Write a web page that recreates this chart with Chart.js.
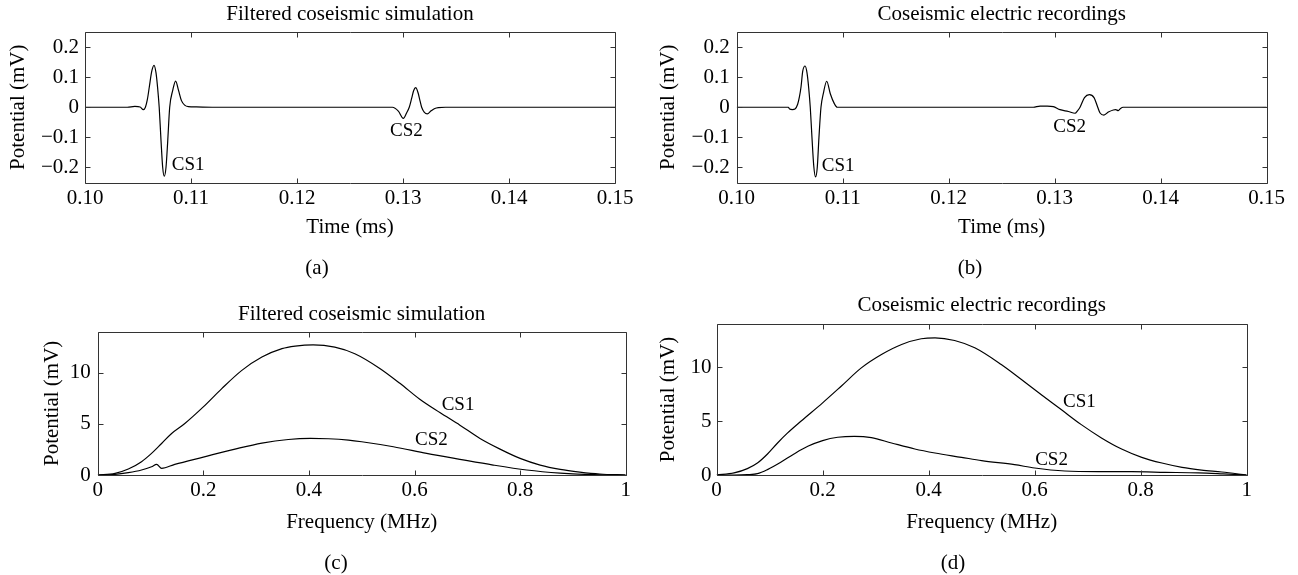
<!DOCTYPE html>
<html>
<head>
<meta charset="utf-8">
<script src="https://cdn.jsdelivr.net/npm/chart.js@4.4.0/dist/chart.umd.min.js"></script>
<style>
  body { margin: 0; background: #fff; width: 1298px; height: 575px; position: relative; overflow: hidden; font-family: "Liberation Serif", serif; }
  .panel { position: absolute; }
  .cap { position: absolute; font-size: 21px; line-height: 1; transform: translate(-50%, -50%); color: #000; }
</style>
</head>
<body>
<div class="panel" style="left:0;top:0;width:650px;height:290px"><canvas id="chartA"></canvas></div>
<div class="panel" style="left:650px;top:0;width:648px;height:290px"><canvas id="chartB"></canvas></div>
<div class="panel" style="left:0;top:290px;width:650px;height:285px"><canvas id="chartC"></canvas></div>
<div class="panel" style="left:650px;top:290px;width:648px;height:285px"><canvas id="chartD"></canvas></div>
<div class="cap" style="left:317px;top:267px">(a)</div>
<div class="cap" style="left:970px;top:267px">(b)</div>
<div class="cap" style="left:336px;top:562px">(c)</div>
<div class="cap" style="left:953px;top:562px">(d)</div>
<script>
/* DATA */

// (a) filtered coseismic simulation, time (ms) / potential (mV)
var simTime = [0.100, 0.1040, 0.1047, 0.1052, 0.1055, 0.1057, 0.10588, 0.10607, 0.10629, 0.10651, 0.10670, 0.10686,
  0.10700, 0.10717, 0.10733, 0.10748, 0.10764, 0.10780, 0.10799, 0.10827, 0.10855, 0.10883, 0.10910, 0.10940,
  0.10975, 0.1105, 0.1120, 0.1290, 0.12956, 0.13003, 0.13035, 0.13059, 0.13082, 0.13100, 0.13120, 0.13142,
  0.13160, 0.13176, 0.13200, 0.13229, 0.13265, 0.13300, 0.13333, 0.1340, 0.150];
var simPotential = [0, 0, 0.003, 0.001, -0.008, 0, 0.025, 0.068, 0.118, 0.139, 0.114, 0.061,
  0, -0.11, -0.2, -0.229, -0.2, -0.115, 0, 0.055, 0.087, 0.055, 0.022, 0.007,
  0.002, 0.001, 0, 0, -0.013, -0.037, -0.018, 0, 0.03, 0.055, 0.065, 0.048,
  0.022, 0, -0.016, -0.022, -0.012, -0.004, -0.001, 0, 0];

// (b) coseismic electric recordings, time (ms) / potential (mV)
var recTime = [0.100, 0.10487, 0.10500, 0.10525, 0.10550, 0.10575, 0.10592, 0.10607, 0.10623, 0.10645, 0.10663,
  0.10679, 0.10694, 0.10710, 0.10727, 0.10744, 0.10760, 0.10776, 0.10795, 0.10817, 0.10849, 0.10883, 0.10921,
  0.10949, 0.12798, 0.12862, 0.12930, 0.12987, 0.13050, 0.13129, 0.13192, 0.13215, 0.13239, 0.13281, 0.13327,
  0.13371, 0.13406, 0.13428, 0.13465, 0.13506, 0.13553, 0.13575, 0.13600, 0.13621, 0.13646, 0.150];
var recPotential = [0, 0, -0.006, -0.008, -0.006, 0.01, 0.035, 0.068, 0.12, 0.137, 0.115,
  0.065, 0, -0.1, -0.195, -0.2315, -0.2, -0.1, 0, 0.045, 0.0864, 0.045, 0.012,
  0, 0, 0.004, 0.004, 0.002, -0.008, -0.014, -0.02, -0.012, 0, 0.032, 0.042,
  0.032, 0, -0.019, -0.026, -0.016, -0.009, -0.008, -0.011, -0.004, 0, 0];

// (c) filtered coseismic simulation, frequency (MHz) / potential (mV)
var simCs1Freq = [0, 0.033, 0.058, 0.083, 0.102, 0.121, 0.140, 0.165, 0.2, 0.235, 0.273, 0.311, 0.349, 0.374,
  0.408, 0.449, 0.487, 0.535, 0.573, 0.61, 0.648, 0.686, 0.724, 0.762, 0.8, 0.838, 0.876, 0.913, 0.951, 1];
var simCs1Amp = [0, 0.16, 0.58, 1.30, 2.11, 3.08, 4.06, 5.03, 6.65, 8.44, 10.22, 11.52, 12.34, 12.59,
  12.72, 12.49, 11.85, 10.39, 8.93, 7.40, 6.10, 4.87, 3.57, 2.53, 1.62, 0.97, 0.55, 0.29, 0.10, 0];
var simCs2Freq = [0, 0.033, 0.058, 0.083, 0.102, 0.1117, 0.121, 0.146, 0.2, 0.26, 0.311, 0.361, 0.403, 0.437,
  0.475, 0.50, 0.56, 0.623, 0.686, 0.749, 0.8125, 0.876, 0.939, 1];
var simCs2Amp = [0, 0.06, 0.23, 0.49, 0.81, 1.04, 0.65, 1.04, 1.75, 2.53, 3.12, 3.47, 3.57, 3.54,
  3.41, 3.25, 2.76, 2.11, 1.53, 0.97, 0.49, 0.19, 0.03, 0];

// (d) coseismic electric recordings, frequency (MHz) / potential (mV)
var recCs1Freq = [0, 0.033, 0.058, 0.077, 0.096, 0.115, 0.134, 0.159, 0.2, 0.235, 0.273, 0.311, 0.349, 0.386,
  0.412, 0.449, 0.487, 0.537, 0.575, 0.612, 0.650, 0.688, 0.726, 0.764, 0.802, 0.840, 0.878, 0.915, 0.953, 1];
var recCs1Amp = [0, 0.19, 0.59, 1.11, 1.95, 2.97, 3.90, 4.98, 6.69, 8.23, 9.93, 11.17, 12.10, 12.63,
  12.72, 12.47, 11.79, 10.24, 8.85, 7.46, 6.07, 4.67, 3.44, 2.41, 1.64, 1.11, 0.71, 0.46, 0.28, 0];
var recCs2Freq = [0, 0.033, 0.058, 0.077, 0.096, 0.121, 0.146, 0.172, 0.2, 0.2285, 0.26, 0.292, 0.33, 0.374,
  0.412, 0.462, 0.50, 0.562, 0.60, 0.657, 0.72, 0.783, 0.846, 0.909, 0.955, 1];
var recCs2Amp = [0, 0, 0.03, 0.12, 0.50, 1.18, 1.95, 2.66, 3.19, 3.50, 3.59, 3.47, 2.97, 2.41,
  2.04, 1.64, 1.33, 0.96, 0.65, 0.37, 0.31, 0.31, 0.25, 0.19, 0.1, 0];

// ticks
var timeTicks = [0.10, 0.11, 0.12, 0.13, 0.14, 0.15];
var timeTickLabels = ['0.10', '0.11', '0.12', '0.13', '0.14', '0.15'];
var mvTicks = [-0.2, -0.1, 0, 0.1, 0.2];
var mvTickLabels = ['\u22120.2', '\u22120.1', '0', '0.1', '0.2'];
var freqTicks = [0, 0.2, 0.4, 0.6, 0.8, 1];
var freqTickLabels = ['0', '0.2', '0.4', '0.6', '0.8', '1'];
var ampTicks = [0, 5, 10];
var ampTickLabels = ['0', '5', '10'];

/* HELPERS */

Chart.defaults.font.family = '"Liberation Serif", serif';
Chart.defaults.color = '#000';

var FONT = { family: '"Liberation Serif", serif', size: 21, weight: 'normal' };

function points(xs, ys) {
  return xs.map(function(x, i) { return { x: x, y: ys[i] }; });
}

function tickLabel(ticks, labels) {
  return function(value) {
    var i = ticks.findIndex(function(t) { return Math.abs(t - value) < 1e-9; });
    return i < 0 ? '' : labels[i];
  };
}

function trace(xs, ys) {
  return {
    data: points(xs, ys),
    borderColor: '#000',
    borderWidth: 1.2,
    pointRadius: 0,
    fill: false,
    cubicInterpolationMode: 'monotone'
  };
}

// box with inward tick marks on all four sides + CS labels
var frame = {
  id: 'frame',
  afterDraw: function(chart, args, opts) {
    var ctx = chart.ctx, a = chart.chartArea, x = chart.scales.x, y = chart.scales.y;
    ctx.save();
    ctx.strokeStyle = '#333';
    ctx.lineWidth = 1;
    ctx.beginPath();
    var l = Math.round(a.left) + 0.5, r = Math.round(a.right) + 0.5;
    var t = Math.round(a.top) + 0.5, b = Math.round(a.bottom) + 0.5;
    ctx.rect(l, t, r - l, b - t);
    x.ticks.forEach(function(tk) {
      var px = Math.round(x.getPixelForValue(tk.value)) + 0.5;
      ctx.moveTo(px, b); ctx.lineTo(px, b - 5);
      ctx.moveTo(px, t); ctx.lineTo(px, t + 5);
    });
    y.ticks.forEach(function(tk) {
      var py = Math.round(y.getPixelForValue(tk.value)) + 0.5;
      ctx.moveTo(l, py); ctx.lineTo(l + 5, py);
      ctx.moveTo(r, py); ctx.lineTo(r - 5, py);
    });
    ctx.stroke();
    ctx.fillStyle = '#000';
    ctx.font = '19px "Liberation Serif", serif';
    ctx.textAlign = 'left';
    ctx.textBaseline = 'middle';
    (opts.notes || []).forEach(function(n) {
      ctx.fillText(n.text, x.getPixelForValue(n.x), y.getPixelForValue(n.y));
    });
    ctx.restore();
  }
};

function makeChart(id, c) {
  return new Chart(document.getElementById(id), {
    type: 'line',
    data: { datasets: c.datasets },
    plugins: [frame],
    options: {
      responsive: true,
      maintainAspectRatio: false,
      animation: false,
      devicePixelRatio: 1,
      layout: { padding: c.padding },
      plugins: {
        legend: { display: false },
        tooltip: { enabled: false },
        title: { display: true, fullSize: false, text: c.title, font: FONT, color: '#000', padding: { top: 0, bottom: c.titleGap } },
        frame: { notes: c.notes }
      },
      scales: {
        x: {
          type: 'linear', min: c.x.min, max: c.x.max,
          afterBuildTicks: function(s) { s.ticks = c.x.ticks.map(function(v) { return { value: v }; }); },
          afterFit: function(s) { s.height = c.x.height; },
          ticks: { callback: tickLabel(c.x.ticks, c.x.labels), font: FONT, color: '#000', padding: 3, maxRotation: 0, autoSkip: false },
          grid: { display: false, drawTicks: false },
          border: { display: false },
          title: { display: true, text: c.x.title, font: FONT, color: '#000', padding: { top: 0, bottom: 0 } }
        },
        y: {
          type: 'linear', min: c.y.min, max: c.y.max,
          afterBuildTicks: function(s) { s.ticks = c.y.ticks.map(function(v) { return { value: v }; }); },
          afterFit: function(s) { s.width = c.y.width; },
          ticks: { callback: tickLabel(c.y.ticks, c.y.labels), font: FONT, color: '#000', padding: c.y.pad, autoSkip: false },
          grid: { display: false, drawTicks: false },
          border: { display: false },
          title: { display: true, text: 'Potential (mV)', font: FONT, color: '#000', padding: { top: 0, bottom: 0 } }
        }
      }
    }
  });
}

/* CHARTS */

var timeAxis = { min: 0.10, max: 0.15, ticks: timeTicks, labels: timeTickLabels, title: 'Time (ms)', height: 58 };
var freqAxis = { min: 0, max: 1, ticks: freqTicks, labels: freqTickLabels, title: 'Frequency (MHz)', height: 59.6 };

makeChart('chartA', {
  title: 'Filtered coseismic simulation',
  padding: { left: 6, top: 1.4, right: 35, bottom: 49.5 },
  titleGap: 5.4,
  x: timeAxis,
  y: { min: -0.25, max: 0.25, ticks: mvTicks, labels: mvTickLabels, width: 79, pad: 6 },
  datasets: [trace(simTime, simPotential)],
  notes: [{ text: 'CS1', x: 0.10818, y: -0.193 }, { text: 'CS2', x: 0.12877, y: -0.080 }]
});

makeChart('chartB', {
  title: 'Coseismic electric recordings',
  padding: { left: 6, top: 1.4, right: 31.3, bottom: 49.5 },
  titleGap: 5.4,
  x: timeAxis,
  y: { min: -0.25, max: 0.25, ticks: mvTicks, labels: mvTickLabels, width: 80.7, pad: 7 },
  datasets: [trace(recTime, recPotential)],
  notes: [{ text: 'CS1', x: 0.10802, y: -0.196 }, { text: 'CS2', x: 0.12987, y: -0.066 }]
});

makeChart('chartC', {
  title: 'Filtered coseismic simulation',
  padding: { left: 39.4, top: 11.4, right: 24.3, bottom: 40.4 },
  titleGap: 5.1,
  x: freqAxis,
  y: { min: 0, max: 14, ticks: ampTicks, labels: ampTickLabels, width: 58.3, pad: 7 },
  datasets: [trace(simCs1Freq, simCs1Amp), trace(simCs2Freq, simCs2Amp)],
  notes: [{ text: 'CS1', x: 0.6515, y: 6.82 }, { text: 'CS2', x: 0.601, y: 3.41 }]
});

makeChart('chartD', {
  title: 'Coseismic electric recordings',
  padding: { left: 6, top: 2.9, right: 51.3, bottom: 40.4 },
  titleGap: 5.9,
  x: freqAxis,
  y: { min: 0, max: 14, ticks: ampTicks, labels: ampTickLabels, width: 60.6, pad: 5 },
  datasets: [trace(recCs1Freq, recCs1Amp), trace(recCs2Freq, recCs2Amp)],
  notes: [{ text: 'CS1', x: 0.6534, y: 6.78 }, { text: 'CS2', x: 0.601, y: 1.35 }]
});
</script>
</body>
</html>
